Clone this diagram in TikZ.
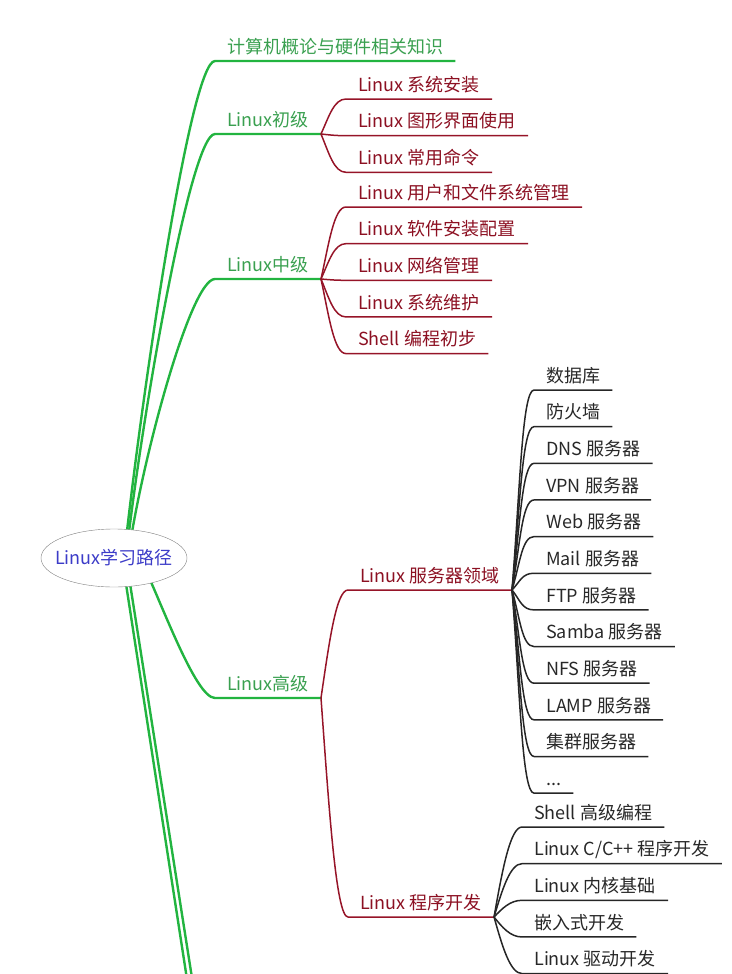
\documentclass[tikz,border=0pt]{standalone}
\usepackage{fontspec}
\setmainfont{Noto Sans CJK SC}
\usetikzlibrary{positioning,shapes.geometric,backgrounds,calc}

\definecolor{lgreen}{RGB}{34,180,64}
\definecolor{tgreen}{RGB}{58,160,80}
\definecolor{lred}{RGB}{150,20,40}
\definecolor{tred}{RGB}{140,16,34}
\definecolor{tblack}{RGB}{40,40,40}
\definecolor{tblue}{RGB}{60,60,200}

\begin{document}
\begin{tikzpicture}[x=1pt,y=1pt,node distance=0pt,font=\fontsize{18}{21}\selectfont,
 lbl/.style={anchor=south west,inner xsep=12pt,inner ysep=0pt,text height=28.75pt,text depth=7.5pt},
 topic/.style={lbl,text=tgreen},
 sub/.style={lbl,text=tred},
 leaf/.style={lbl,text=tblack},
 belowof/.style={below=0pt of #1.south west,anchor=north west},
 hub/.style={ellipse,draw=black!50,fill=white,text=tblue,minimum width=146pt,minimum height=58pt,inner xsep=-8pt,inner ysep=0pt},
 gline/.style={draw=lgreen,line width=2.4pt},
 rline/.style={draw=lred,line width=1.5pt},
 bline/.style={draw=black!85,line width=1.5pt},
 curvy/.style={to path={.. controls ($(\tikztostart)!.5!(\tikztostart|-\tikztotarget)+(8,0)$) and ($(\tikztotarget)+(-12,0)$) .. (\tikztotarget) \tikztonodes}}]
\useasboundingbox (0,0) rectangle (731,-974);

\node[hub] (root) at (114,-558) {Linux学习路径};

% first level
\node[topic] (basic) at (215,-61) {计算机概论与硬件相关知识};
\node[topic] (junior) at (215,-134) {Linux初级};
\node[topic] (middle) at (215,-279) {Linux中级};
\node[topic] (senior) at (215,-698) {Linux高级};
\coordinate (more1) at (230,-1258);
\coordinate (more2) at (236,-1258);

% Linux初级
\node[sub] (install) at ([shift={(25,35)}]junior.south east) {Linux 系统安装};
\node[sub,belowof=install] (gui) {Linux 图形界面使用};
\node[sub,belowof=gui] (cmd) {Linux 常用命令};

% Linux中级
\node[sub] (users) at ([shift={(25,72)}]middle.south east) {Linux 用户和文件系统管理};
\node[sub,belowof=users] (soft) {Linux 软件安装配置};
\node[sub,belowof=soft] (net) {Linux 网络管理};
\node[sub,belowof=net] (maint) {Linux 系统维护};
\node[sub,belowof=maint] (shell) {Shell 编程初步};

% Linux高级
\node[sub] (server) at ([shift={(27,108)}]senior.south east) {Linux 服务器领域};
\node[sub] (prog) at ([shift={(27,-219)}]senior.south east) {Linux 程序开发};

\node[leaf] (db) at ([shift={(22,200)}]server.south east) {数据库};
\node[leaf,belowof=db] (fw) {防火墙};
\node[leaf,belowof=fw] (dns) {DNS 服务器};
\node[leaf,belowof=dns] (vpn) {VPN 服务器};
\node[leaf,belowof=vpn] (web) {Web 服务器};
\node[leaf,belowof=web] (mail) {Mail 服务器};
\node[leaf,belowof=mail] (ftp) {FTP 服务器};
\node[leaf,belowof=ftp] (samba) {Samba 服务器};
\node[leaf,belowof=samba] (nfs) {NFS 服务器};
\node[leaf,belowof=nfs] (lamp) {LAMP 服务器};
\node[leaf,belowof=lamp] (cluster) {集群服务器};
\node[leaf,belowof=cluster] (etc) {...};

\node[leaf] (shadv) at ([shift={(28,90)}]prog.south east) {Shell 高级编程};
\node[leaf,belowof=shadv] (cpp) {Linux C/C++ 程序开发};
\node[leaf,belowof=cpp] (kernel) {Linux 内核基础};
\node[leaf,belowof=kernel] (embed) {嵌入式开发};
\node[leaf,belowof=embed] (driver) {Linux 驱动开发};

\begin{scope}[on background layer]
\draw[gline] ([xshift=10]root.center) .. controls +(16,150) and +(-25,0) .. (basic.south west) -- (basic.south east);
\draw[gline] ([xshift=12]root.center) .. controls +(14,130) and +(-25,0) .. (junior.south west) -- (junior.south east);
\draw[gline] ([xshift=14]root.center) .. controls +(12,90) and +(-25,0) .. (middle.south west) -- (middle.south east);
\draw[gline] ([xshift=26]root.center) .. controls +(20,-40) and +(-20,0) .. (senior.south west) -- (senior.south east);
\draw[gline] ([xshift=8]root.center) -- (more1);
\draw[gline] ([xshift=12]root.center) -- (more2);

\foreach \c in {install,gui,cmd}
  \draw[rline] (junior.south east) to[curvy] (\c.south west) -- (\c.south east);
\foreach \c in {users,soft,net,maint,shell}
  \draw[rline] (middle.south east) to[curvy] (\c.south west) -- (\c.south east);
\foreach \c in {server,prog}
  \draw[rline] (senior.south east) to[curvy] (\c.south west) -- (\c.south east);

\foreach \c in {db,fw,dns,vpn,web,mail,ftp,samba,nfs,lamp,cluster,etc}
  \draw[bline] (server.south east) to[curvy] (\c.south west) -- (\c.south east);
\foreach \c in {shadv,cpp,kernel,embed,driver}
  \draw[bline] (prog.south east) to[curvy] (\c.south west) -- (\c.south east);
\end{scope}
\end{tikzpicture}
\end{document}
